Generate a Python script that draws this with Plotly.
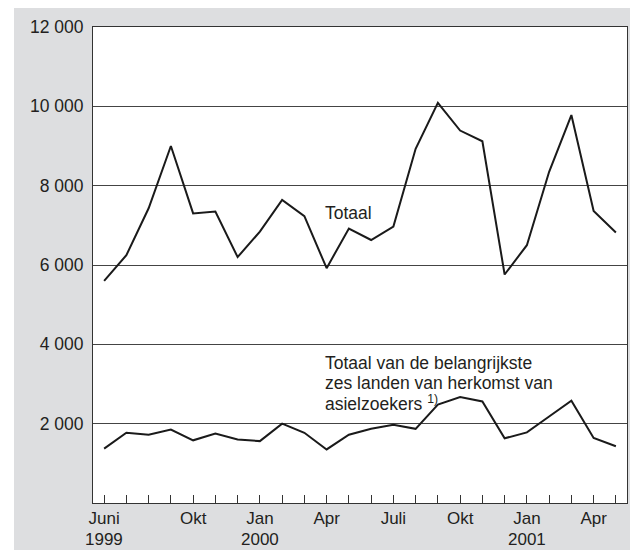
import plotly.graph_objects as go

# ---- data ----
periods = ["1999-06", "1999-07", "1999-08", "1999-09", "1999-10", "1999-11", "1999-12",
           "2000-01", "2000-02", "2000-03", "2000-04", "2000-05", "2000-06", "2000-07",
           "2000-08", "2000-09", "2000-10", "2000-11", "2000-12", "2001-01", "2001-02",
           "2001-03", "2001-04", "2001-05"]
label_positions = ["1999-06", "1999-10", "2000-01", "2000-04", "2000-07", "2000-10",
                   "2001-01", "2001-04"]
tick_labels = ["Juni", "Okt", "Jan", "Apr", "Juli", "Okt", "Jan", "Apr"]
year_positions = ["1999-06", "2000-01", "2001-01"]
year_labels = ["1999", "2000", "2001"]
totaal = [5600, 6250, 7430, 9000, 7300, 7350, 6200, 6840, 7640, 7230, 5920, 6920,
          6630, 6970, 8930, 10090, 9390, 9120, 5760, 6500, 8350, 9780, 7360, 6820]
zes_landen = [1370, 1770, 1720, 1850, 1580, 1750, 1600, 1560, 2000, 1770, 1350, 1720,
              1870, 1970, 1870, 2480, 2670, 2560, 1630, 1780, 2180, 2580, 1640, 1430]
y_ticks = [2000, 4000, 6000, 8000, 10000, 12000]
y_tick_labels = ["2 000", "4 000", "6 000", "8 000", "10 000", "12 000"]

FONT = "Liberation Sans, Arial, sans-serif"
FS = 17.5
XFS = 17
TXT = "#231f20"
GREY = "#dddee0"

idx = list(range(len(periods)))
tick_idx = [periods.index(p) for p in label_positions]

fig = go.Figure()
fig.add_trace(go.Scatter(x=idx, y=totaal, mode="lines", customdata=periods,
                         line=dict(color="#1a1a1a", width=2), name="Totaal"))
fig.add_trace(go.Scatter(x=idx, y=zes_landen, mode="lines", customdata=periods,
                         line=dict(color="#1a1a1a", width=2), name="Zes landen"))

# page body has an 8px margin, figure is sized to fit the 638x550 window
W, H = 630, 542
L, R, T, B = 85, 11, 19, 47
pw, ph = W - L - R, H - T - B

shapes = [
    dict(type="rect", xref="paper", yref="paper", layer="below",
         x0=(6 - L) / pw, x1=(W + 5 - L) / pw, y0=-(B + 5) / ph, y1=(H - B + 5) / ph,
         fillcolor=GREY, line=dict(width=0)),
    dict(type="rect", xref="paper", yref="paper", layer="below",
         x0=0, x1=1, y0=0, y1=1, fillcolor="white", line=dict(width=0)),
]

ann_font = dict(family=FONT, size=FS, color=TXT)
annotations = [
    dict(x=9.83, y=7311, text="Totaal", xanchor="left", yanchor="middle", showarrow=False,
         font=ann_font),
    dict(x=9.82, y=3529, text="Totaal van de belangrijkste", xanchor="left", yanchor="middle",
         showarrow=False, font=ann_font),
    dict(x=9.82, y=3025, text="zes landen van herkomst van", xanchor="left", yanchor="middle",
         showarrow=False, font=ann_font),
    dict(x=9.82, y=2521, text="asielzoekers <sup>1)</sup>", xanchor="left", yanchor="middle",
         showarrow=False, font=ann_font),
]
for pos, lab in zip(year_positions, year_labels):
    annotations.append(dict(x=periods.index(pos), xref="x", y=-36.5 / ph, yref="paper",
                            text=lab, xanchor="center", yanchor="middle", showarrow=False,
                            font=dict(family=FONT, size=XFS, color=TXT)))

fig.update_layout(
    width=W, height=H,
    margin=dict(l=L, r=R, t=T, b=B, pad=0, autoexpand=False),
    paper_bgcolor="white", plot_bgcolor="white",
    showlegend=False,
    shapes=shapes,
    annotations=annotations,
    font=dict(family=FONT, size=FS, color=TXT),
    xaxis=dict(range=[-0.5, 23.5], tickvals=tick_idx, ticktext=tick_labels,
               tickfont=dict(family=FONT, size=XFS, color=TXT),
               ticks="inside", ticklen=8, tickwidth=1, tickcolor="#333",
               minor=dict(ticks="inside", ticklen=8, tickwidth=1, tickcolor="#333",
                          tick0=0, dtick=1, showgrid=False),
               showgrid=False, showline=True, linecolor="#333", linewidth=1, mirror=True,
               zeroline=False, tickangle=0, fixedrange=True),
    yaxis=dict(range=[0, 12000], tickvals=y_ticks, ticktext=y_tick_labels,
               ticks="", showgrid=True, gridcolor="#444", gridwidth=1,
               showline=True, linecolor="#333", linewidth=1, mirror=True,
               zeroline=False, ticklabelstandoff=5, fixedrange=True),
)

fig.write_html("out.html")
